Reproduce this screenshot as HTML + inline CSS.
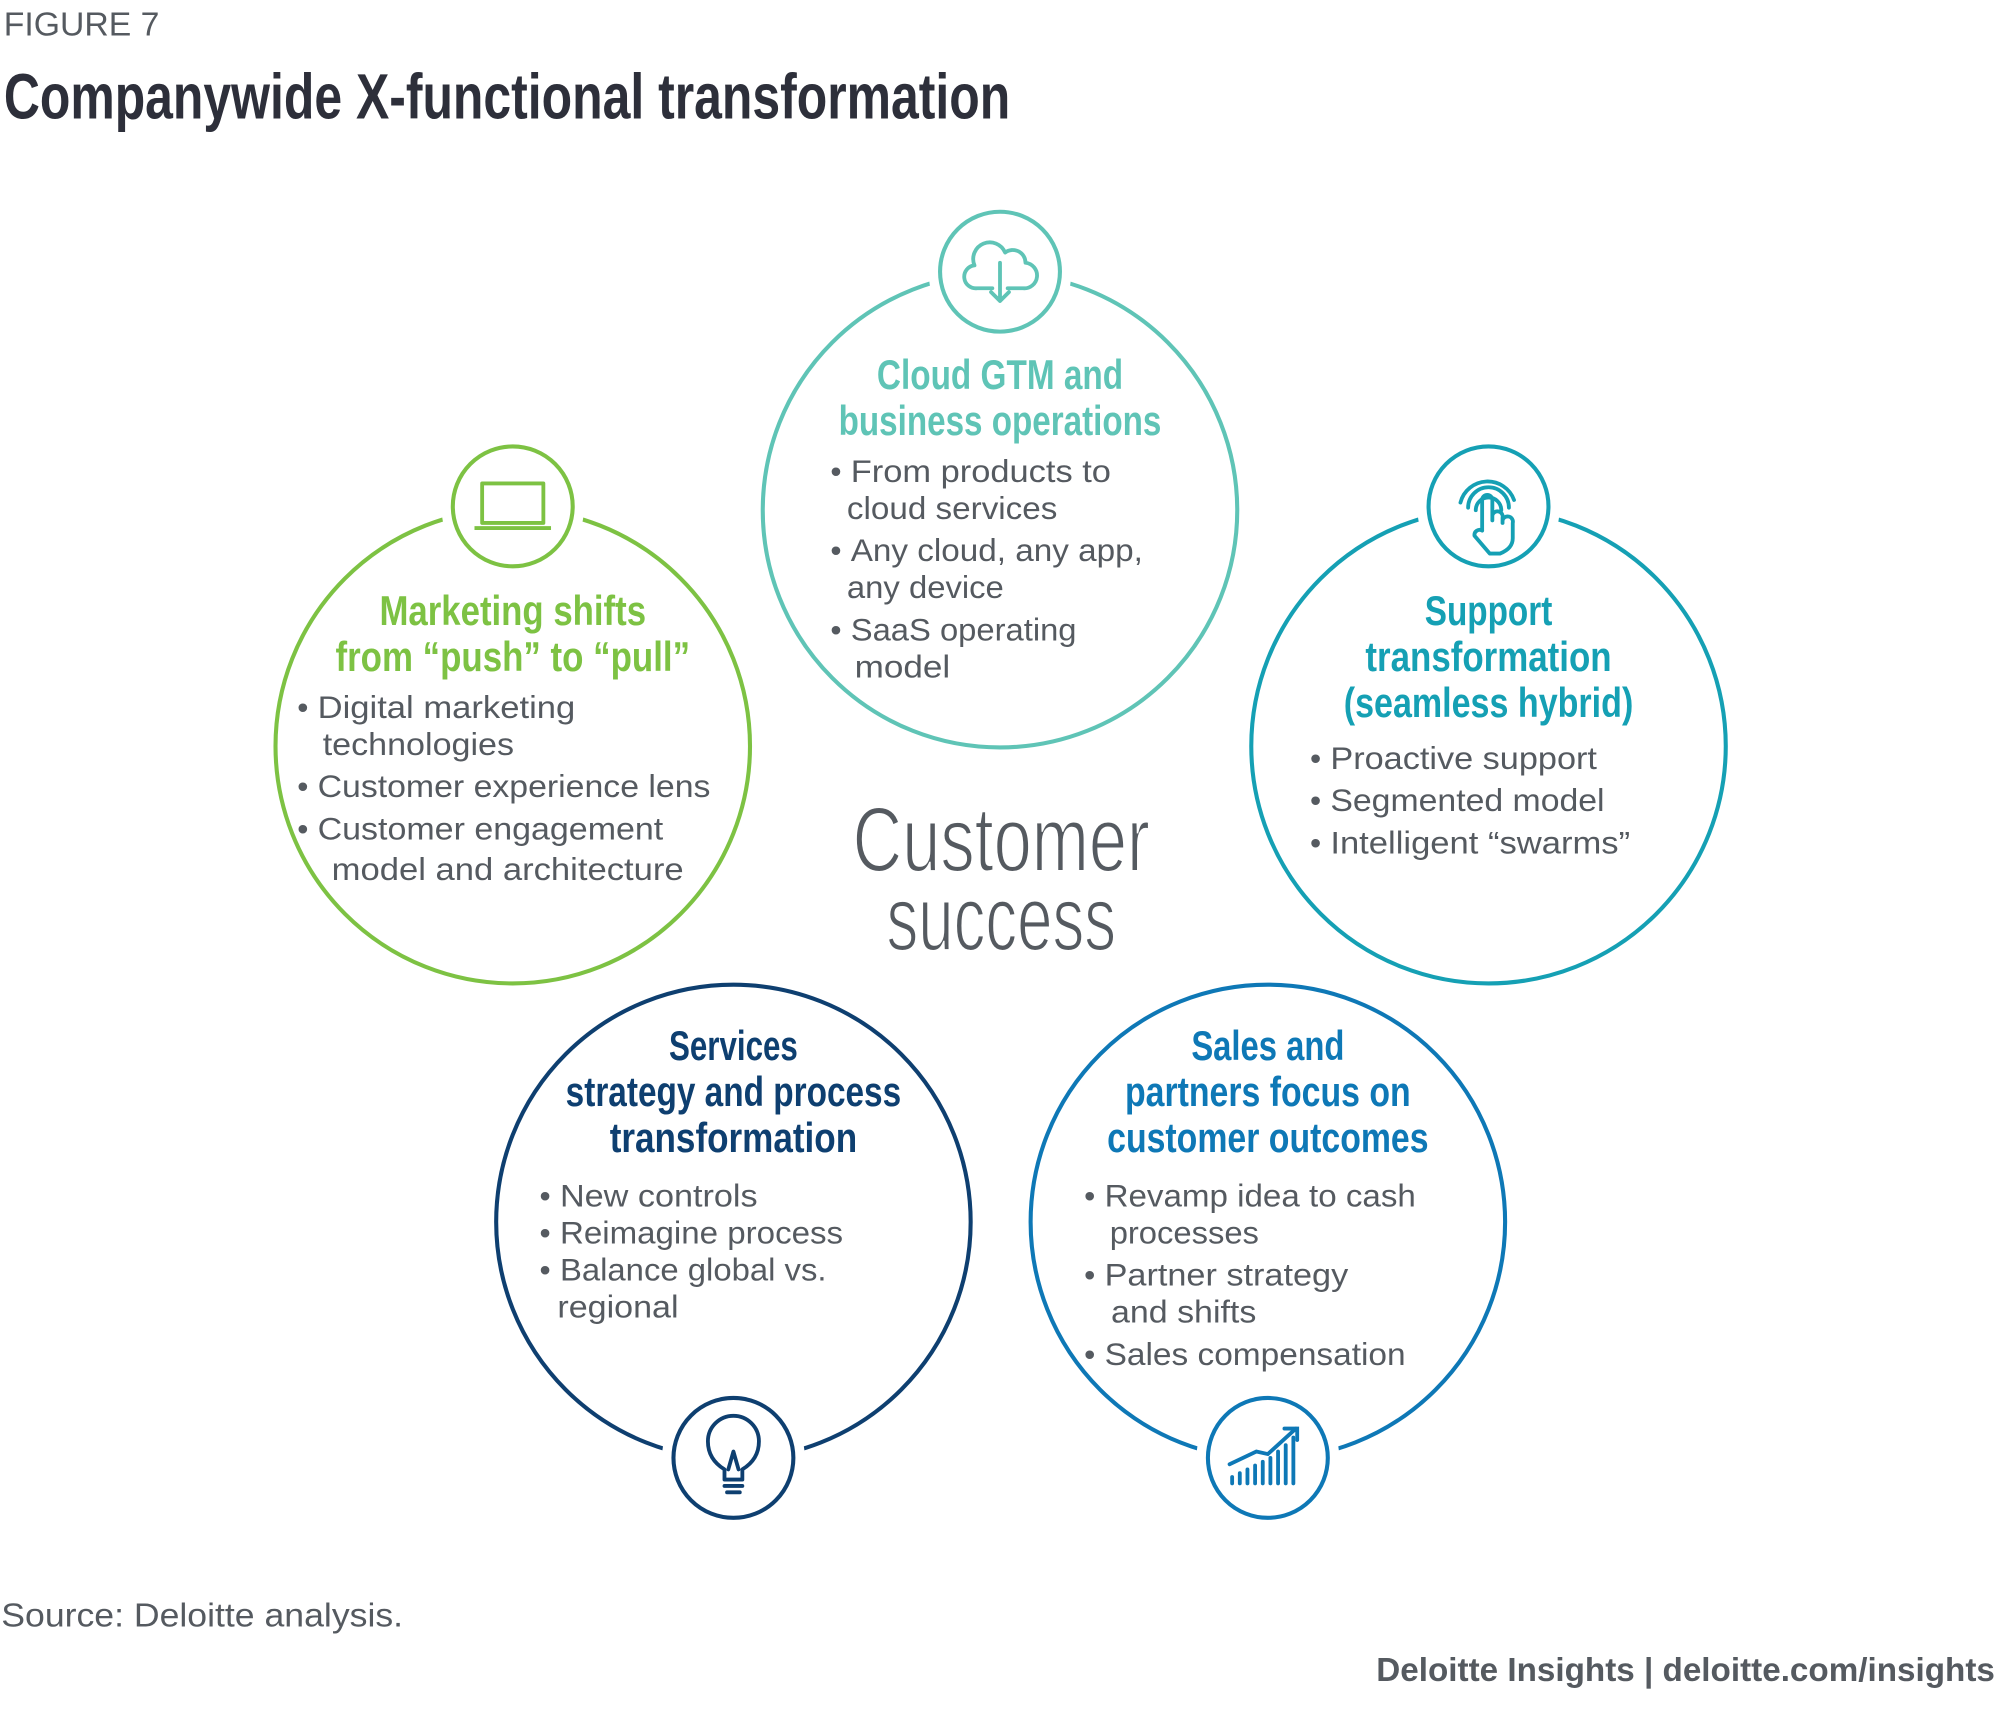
<!DOCTYPE html>
<html><head><meta charset="utf-8"><style>
html,body{margin:0;padding:0;background:#fff;}
svg{display:block;}
text{font-family:"Liberation Sans",sans-serif;}
.h{font-family:"Liberation Sans Narrow","Liberation Sans",sans-serif;font-weight:bold;font-size:33px;}
.b{font-size:25px;fill:#555a60;}
</style></head><body>
<svg width="2000" height="1713" viewBox="0 0 1568 1343" preserveAspectRatio="none" xmlns="http://www.w3.org/2000/svg">
<rect width="1568" height="1343" fill="#fff"/>
<text x="3" y="28" font-size="26" fill="#555a60" textLength="122" lengthAdjust="spacingAndGlyphs">FIGURE 7</text>
<text x="3" y="93" class="h" font-size="50" style="font-size:50px" fill="#2d2f3a" textLength="789" lengthAdjust="spacingAndGlyphs">Companywide X-functional transformation</text>

<g fill="none" stroke-width="3.2">
<circle cx="784" cy="400" r="186" stroke="#5fc4b6"/>
<circle cx="402" cy="585" r="186" stroke="#7dc243"/>
<circle cx="1167" cy="585" r="186" stroke="#15a0b4"/>
<circle cx="575" cy="958" r="186" stroke="#0e3f70"/>
<circle cx="994" cy="958" r="186" stroke="#0e78b6"/>
</g>
<g fill="#fff" stroke="#fff" stroke-width="18">
<circle cx="784" cy="213" r="47"/><circle cx="402" cy="397" r="47"/><circle cx="1167" cy="397" r="47"/>
<circle cx="575" cy="1143" r="47"/><circle cx="994" cy="1143" r="47"/>
</g>
<g fill="none" stroke-width="3.2">
<circle cx="784" cy="213" r="47" stroke="#5fc4b6"/>
<circle cx="402" cy="397" r="47" stroke="#7dc243"/>
<circle cx="1167" cy="397" r="47" stroke="#15a0b4"/>
<circle cx="575" cy="1143" r="47" stroke="#0e3f70"/>
<circle cx="994" cy="1143" r="47" stroke="#0e78b6"/>
</g>
<!-- icons -->
<g fill="none" stroke="#5fc4b6" stroke-width="3" stroke-linecap="round" stroke-linejoin="round">
<path d="M778 226 H766 a9 9 0 0 1 -2 -18 a13 13 0 0 1 24 -10 a10 10 0 0 1 16 8 a9 9 0 0 1 -2 20 H790"/>
<path d="M784 206 V236 M777 229 L784 236 L791 229"/>
</g>
<g fill="none" stroke="#7dc243" stroke-width="3" stroke-linejoin="round">
<rect x="378" y="379" width="48" height="31"/>
<path d="M372 414 H432"/>
</g>
<g fill="none" stroke="#15a0b4" stroke-width="3" stroke-linecap="round" stroke-linejoin="round">
<path d="M1151 398 a16 16 0 0 1 32 0 M1145 394 a22 22 0 0 1 42 -2 M1157 400 a10 10 0 0 1 20 0"/>
<path d="M1162 416 V392 a4 4 0 0 1 8 0 V408 M1170 404 a4 4 0 0 1 8 2 V410 M1178 408 a4 4 0 0 1 8 2 V422 q0 8 -10 12 H1168 l-12 -14 a4 4 0 0 1 6 -4"/>
</g>
<g fill="none" stroke="#0e3f70" stroke-width="3" stroke-linecap="round" stroke-linejoin="round">
<path d="M568 1152 q-13 -8 -13 -22 a20 20 0 0 1 40 0 q0 14 -13 22 V1160 H568 Z"/>
<path d="M568 1165 H582 M570 1170 H580 M571 1152 L575 1138 L579 1152"/>
</g>
<g fill="none" stroke="#0e78b6" stroke-width="3" stroke-linecap="round">
<path d="M966 1163 V1158 M972 1163 V1155 M978 1163 V1152 M984 1163 V1149 M990 1163 V1146 M996 1163 V1143 M1002 1163 V1138 M1008 1163 V1133 M1014 1163 V1127"/>
<path d="M964 1148 L985 1138 L994 1140 L1016 1120 M1007 1120 H1017 V1129"/>
</g>

<!-- Cloud -->
<g class="h" fill="#5fc4b6" text-anchor="middle">
<text x="784" y="305" textLength="193" lengthAdjust="spacingAndGlyphs">Cloud GTM and</text>
<text x="784" y="341" textLength="253" lengthAdjust="spacingAndGlyphs">business operations</text>
</g>
<g class="b">
<text x="651" y="378">•</text><text x="667" y="378" textLength="204" lengthAdjust="spacingAndGlyphs">From products to</text>
<text x="664" y="407" textLength="165" lengthAdjust="spacingAndGlyphs">cloud services</text>
<text x="651" y="440">•</text><text x="667" y="440" textLength="229" lengthAdjust="spacingAndGlyphs">Any cloud, any app,</text>
<text x="664" y="469" textLength="123" lengthAdjust="spacingAndGlyphs">any device</text>
<text x="651" y="502">•</text><text x="667" y="502" textLength="177" lengthAdjust="spacingAndGlyphs">SaaS operating</text>
<text x="670" y="531" textLength="75" lengthAdjust="spacingAndGlyphs">model</text>
</g>
<!-- Marketing -->
<g class="h" fill="#7dc243" text-anchor="middle">
<text x="402" y="490" textLength="209" lengthAdjust="spacingAndGlyphs">Marketing shifts</text>
<text x="402" y="526" textLength="278" lengthAdjust="spacingAndGlyphs">from “push” to “pull”</text>
</g>
<g class="b">
<text x="233" y="563">•</text><text x="249" y="563" textLength="202" lengthAdjust="spacingAndGlyphs">Digital marketing</text>
<text x="253" y="592" textLength="150" lengthAdjust="spacingAndGlyphs">technologies</text>
<text x="233" y="625">•</text><text x="249" y="625" textLength="308" lengthAdjust="spacingAndGlyphs">Customer experience lens</text>
<text x="233" y="658">•</text><text x="249" y="658" textLength="271" lengthAdjust="spacingAndGlyphs">Customer engagement</text>
<text x="260" y="690" textLength="276" lengthAdjust="spacingAndGlyphs">model and architecture</text>
</g>
<!-- Customer success -->
<g font-family="Liberation Sans Narrow, Liberation Sans, sans-serif" font-size="72" fill="#555a60" stroke="#fff" stroke-width="1.6" text-anchor="middle">
<text x="785" y="683" textLength="233" lengthAdjust="spacingAndGlyphs">Customer</text>
<text x="785" y="745" textLength="180" lengthAdjust="spacingAndGlyphs">success</text>
</g>
<!-- Support -->
<g class="h" fill="#15a0b4" text-anchor="middle">
<text x="1167" y="490" textLength="100" lengthAdjust="spacingAndGlyphs">Support</text>
<text x="1167" y="526" textLength="193" lengthAdjust="spacingAndGlyphs">transformation</text>
<text x="1167" y="562" textLength="227" lengthAdjust="spacingAndGlyphs">(seamless hybrid)</text>
</g>
<g class="b">
<text x="1027" y="603">•</text><text x="1043" y="603" textLength="209" lengthAdjust="spacingAndGlyphs">Proactive support</text>
<text x="1027" y="636">•</text><text x="1043" y="636" textLength="215" lengthAdjust="spacingAndGlyphs">Segmented model</text>
<text x="1027" y="669">•</text><text x="1043" y="669" textLength="235" lengthAdjust="spacingAndGlyphs">Intelligent “swarms”</text>
</g>
<!-- Services -->
<g class="h" fill="#0e3f70" text-anchor="middle">
<text x="575" y="831" textLength="101" lengthAdjust="spacingAndGlyphs">Services</text>
<text x="575" y="867" textLength="263" lengthAdjust="spacingAndGlyphs">strategy and process</text>
<text x="575" y="903" textLength="194" lengthAdjust="spacingAndGlyphs">transformation</text>
</g>
<g class="b">
<text x="423" y="946">•</text><text x="439" y="946" textLength="155" lengthAdjust="spacingAndGlyphs">New controls</text>
<text x="423" y="975">•</text><text x="439" y="975" textLength="222" lengthAdjust="spacingAndGlyphs">Reimagine process</text>
<text x="423" y="1004">•</text><text x="439" y="1004" textLength="209" lengthAdjust="spacingAndGlyphs">Balance global vs.</text>
<text x="437" y="1033" textLength="95" lengthAdjust="spacingAndGlyphs">regional</text>
</g>
<!-- Sales -->
<g class="h" fill="#0e78b6" text-anchor="middle">
<text x="994" y="831" textLength="120" lengthAdjust="spacingAndGlyphs">Sales and</text>
<text x="994" y="867" textLength="224" lengthAdjust="spacingAndGlyphs">partners focus on</text>
<text x="994" y="903" textLength="252" lengthAdjust="spacingAndGlyphs">customer outcomes</text>
</g>
<g class="b">
<text x="850" y="946">•</text><text x="866" y="946" textLength="244" lengthAdjust="spacingAndGlyphs">Revamp idea to cash</text>
<text x="870" y="975" textLength="117" lengthAdjust="spacingAndGlyphs">processes</text>
<text x="850" y="1008">•</text><text x="866" y="1008" textLength="191" lengthAdjust="spacingAndGlyphs">Partner strategy</text>
<text x="871" y="1037" textLength="114" lengthAdjust="spacingAndGlyphs">and shifts</text>
<text x="850" y="1070">•</text><text x="866" y="1070" textLength="236" lengthAdjust="spacingAndGlyphs">Sales compensation</text>
</g>

<text x="1" y="1275" class="b" style="font-size:26px" textLength="315" lengthAdjust="spacingAndGlyphs">Source: Deloitte analysis.</text>
<text x="1079" y="1318" style="font-size:26px;font-weight:bold" fill="#555a60" textLength="485" lengthAdjust="spacingAndGlyphs">Deloitte Insights | deloitte.com/insights</text>
</svg>
</body></html>
